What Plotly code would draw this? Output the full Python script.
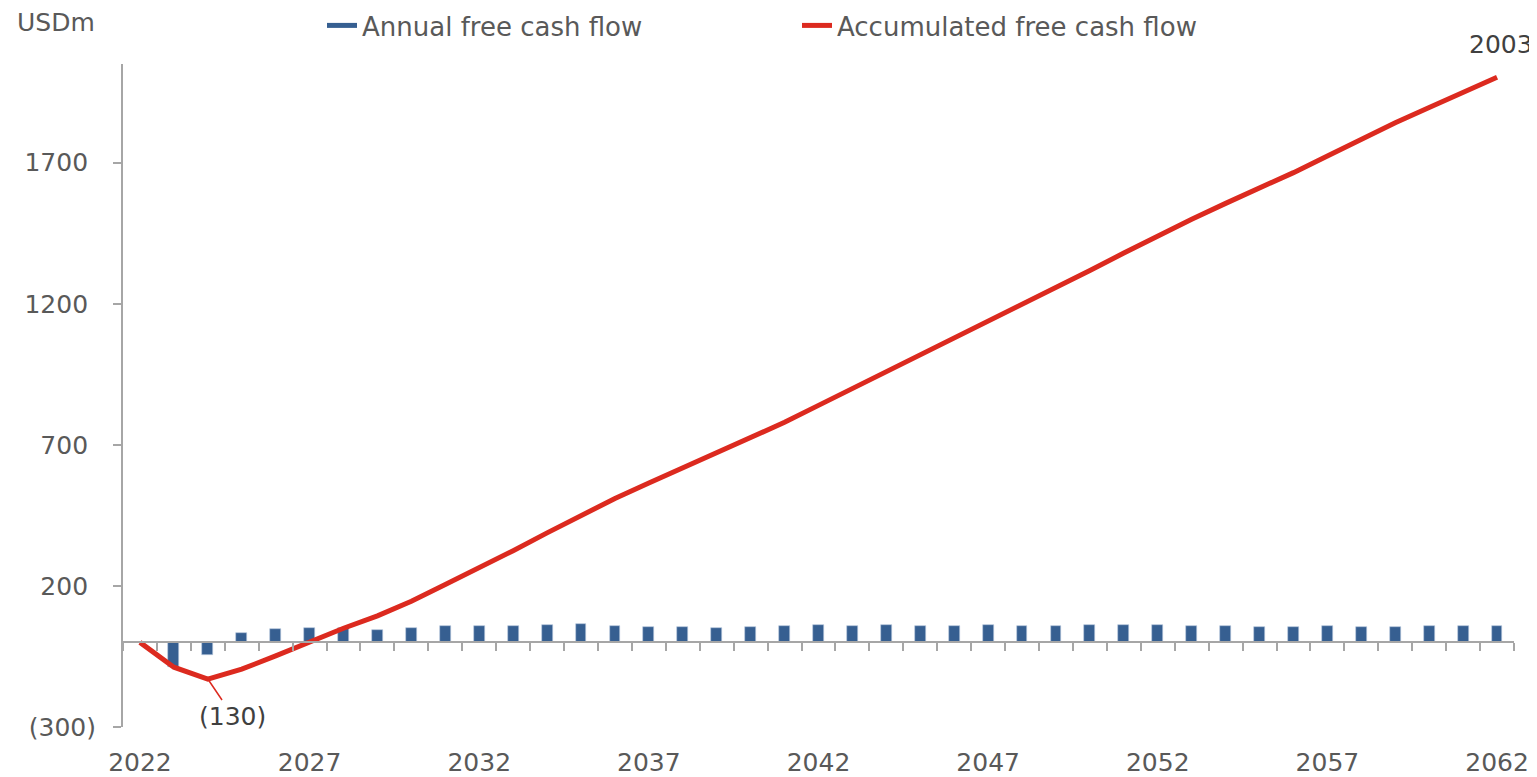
import plotly.graph_objects as go

# data (USDm)
years = list(range(2022, 2063))
annual_fcf = [
    0, -86, -44, 34, 48, 51, 50, 44, 51, 57,
    58, 58, 61, 64, 58, 54, 54, 51, 53, 58,
    61, 58, 61, 58, 58, 62, 58, 58, 61, 62,
    62, 58, 58, 54, 54, 58, 54, 56, 58, 58,
    59,
]
accumulated_fcf = [
    0, -88, -130, -95, -48, 2, 50, 94, 146, 205,
    264, 325, 388, 450, 510, 565, 618, 670, 723, 780,
    840, 900, 958, 1016, 1075, 1137, 1196, 1256, 1318, 1380,
    1441, 1500, 1556, 1610, 1665, 1724, 1783, 1842, 1896, 1950,
    2003,
]
y_ticks = [-300, 200, 700, 1200, 1700]
# positives padded like the accounting number format
y_ticktext = ["(300)", "200\u00a0", "700\u00a0", "1200\u00a0", "1700\u00a0"]
x_labels = [2022, 2027, 2032, 2037, 2042, 2047, 2052, 2057, 2062]

FONT = "Verdana, DejaVu Sans, sans-serif"
GREY = "#595959"
AXIS = "#a6a6a6"
BLUE = "#365f91"
RED = "#dc2a1f"

y_min, y_max = -300, 2050
x_range = [years[0] - 0.5, years[-1] + 0.5]
between = [y - 0.5 for y in years] + [years[-1] + 0.5]

# page body has an 8px margin, so the figure is a bit smaller than the window
W, H = 1529, 769
L, T = 115, 56
R, B = W - 1506, H - 719
PW, PH = W - L - R, H - T - B

fig = go.Figure()

fig.add_trace(go.Bar(
    x=years, y=annual_fcf, name="Annual free cash flow",
    marker=dict(color=BLUE, line=dict(color="#b9c9dd", width=0.6)),
    width=0.32, showlegend=False,
))
# wide legend swatch for the bars
fig.add_trace(go.Scatter(
    x=[None], y=[None], name="Annual free cash flow", mode="lines",
    line=dict(color=BLUE, width=14), hoverinfo="skip",
))

fig.add_trace(go.Scatter(
    x=years, y=accumulated_fcf, name="Accumulated free cash flow",
    mode="lines", line=dict(color=RED, width=5),
    xaxis="x2",
))

# min / end labels
fig.add_annotation(
    x=years[accumulated_fcf.index(min(accumulated_fcf))], y=min(accumulated_fcf),
    text="(" + str(abs(min(accumulated_fcf))) + ")",
    showarrow=True, arrowhead=0, arrowwidth=1.5, arrowcolor=RED,
    ax=25, ay=37, standoff=0,
    font=dict(family=FONT, size=25, color="#404040"),
)
fig.add_annotation(
    x=years[-1], y=accumulated_fcf[-1], text=str(accumulated_fcf[-1]),
    showarrow=False, yshift=33, xshift=4,
    font=dict(family=FONT, size=25, color="#404040"),
)
fig.add_annotation(
    x=(7 - L) / PW, y=1 + (T - 14) / PH, xref="paper", yref="paper",
    text="USDm", showarrow=False, xanchor="left", yanchor="middle",
    font=dict(family=FONT, size=25, color=GREY),
)

fig.update_layout(
    width=W, height=H,
    margin=dict(l=L, r=R, t=T, b=B, autoexpand=False),
    paper_bgcolor="white", plot_bgcolor="white",
    font=dict(family=FONT, size=25, color=GREY),
    bargap=0,
    showlegend=True,
    legend=dict(
        orientation="h", x=(314 - L) / PW, y=1 + (T + 6) / PH,
        xanchor="left", yanchor="top",
        font=dict(family=FONT, size=26, color=GREY),
        entrywidth=430, entrywidthmode="pixels",
        bgcolor="rgba(0,0,0,0)", itemsizing="constant",
    ),
    xaxis=dict(
        range=x_range, tickmode="array", tickvals=x_labels,
        ticktext=[str(v) for v in x_labels],
        showline=False, showgrid=False, zeroline=False, ticks="",
        ticklabelstandoff=18, automargin=False,
        tickfont=dict(family=FONT, size=25, color=GREY),
    ),
    xaxis2=dict(
        range=x_range, overlaying="x", anchor="free",
        position=(0 - y_min) / (y_max - y_min), side="bottom",
        tickmode="array", tickvals=between, showticklabels=False,
        ticks="outside", ticklen=8, tickwidth=2, tickcolor=AXIS,
        showline=True, linecolor=AXIS, linewidth=2,
        showgrid=False, zeroline=False, automargin=False,
    ),
    yaxis=dict(
        range=[y_min, y_max], tickmode="array", tickvals=y_ticks,
        ticktext=y_ticktext, ticks="outside", ticklen=8, tickwidth=2,
        tickcolor=AXIS, showline=True, linecolor=AXIS, linewidth=2,
        showgrid=False, zeroline=False, ticklabelstandoff=12,
        automargin=False,
        tickfont=dict(family=FONT, size=25, color=GREY),
    ),
)

fig.write_html("out.html")
